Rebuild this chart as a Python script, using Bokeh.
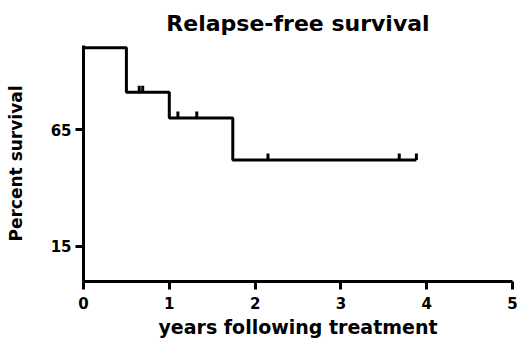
from bokeh.plotting import figure
from bokeh.models import FixedTicker, Range1d
from bokeh.embed import file_html
from bokeh.resources import INLINE

# Kaplan-Meier steps (years, percent surviving)
time_years = [0.0, 0.5, 1.0, 1.74, 3.88]
survival_pct = [100, 81, 70, 52, 52]
# censored observations
censor_years = [0.65, 0.69, 1.10, 1.32, 2.15, 3.68, 3.88]
censor_pct = [81, 81, 70, 70, 52, 52, 52]
x_ticks = [0, 1, 2, 3, 4, 5]
y_ticks = [15, 65]

FONT = "DejaVu Sans"

p = figure(width=520, height=340, output_backend="svg", toolbar_location=None,
           x_range=Range1d(0, 5), y_range=Range1d(0, 101),
           min_border_left=83, min_border_right=8, min_border_top=45,
           min_border_bottom=59, background_fill_color="white",
           border_fill_color="white")

p.step(time_years, survival_pct, mode="after", line_width=3, line_color="black")
p.segment(x0=censor_years, y0=censor_pct, x1=censor_years,
          y1=[v + 2.8 for v in censor_pct], line_width=3, line_color="black")

p.title.text = "Relapse-free survival"
p.title.align = "center"
p.title.vertical_align = "top"
p.title.text_font = FONT
p.title.text_font_size = "22px"
p.title.text_font_style = "bold"
p.title.text_color = "black"
p.title.standoff = 16

p.xaxis.ticker = FixedTicker(ticks=x_ticks)
p.yaxis.ticker = FixedTicker(ticks=y_ticks)
p.xaxis.axis_label = "years following treatment"
p.yaxis.axis_label = "Percent survival"

for ax in p.axis:
    ax.axis_line_width = 3
    ax.axis_line_color = "black"
    ax.major_tick_line_width = 3
    ax.major_tick_line_color = "black"
    ax.major_tick_out = 8
    ax.major_tick_in = 0
    ax.minor_tick_line_color = None
    ax.major_label_text_font = FONT
    ax.major_label_text_font_style = "bold"
    ax.major_label_text_font_size = "15px"
    ax.major_label_text_color = "black"
    ax.axis_label_text_font = FONT
    ax.axis_label_text_font_style = "bold"
    ax.axis_label_text_color = "black"

p.xaxis.major_label_standoff = 7
p.xaxis.axis_label_text_font_size = "19px"
p.xaxis.axis_label_standoff = 4
p.yaxis.major_label_standoff = 4
p.yaxis.axis_label_text_font_size = "17px"
p.yaxis.axis_label_standoff = 22

p.xgrid.visible = False
p.ygrid.visible = False
p.outline_line_color = None

open("out.html", "w").write(file_html(p, INLINE))
